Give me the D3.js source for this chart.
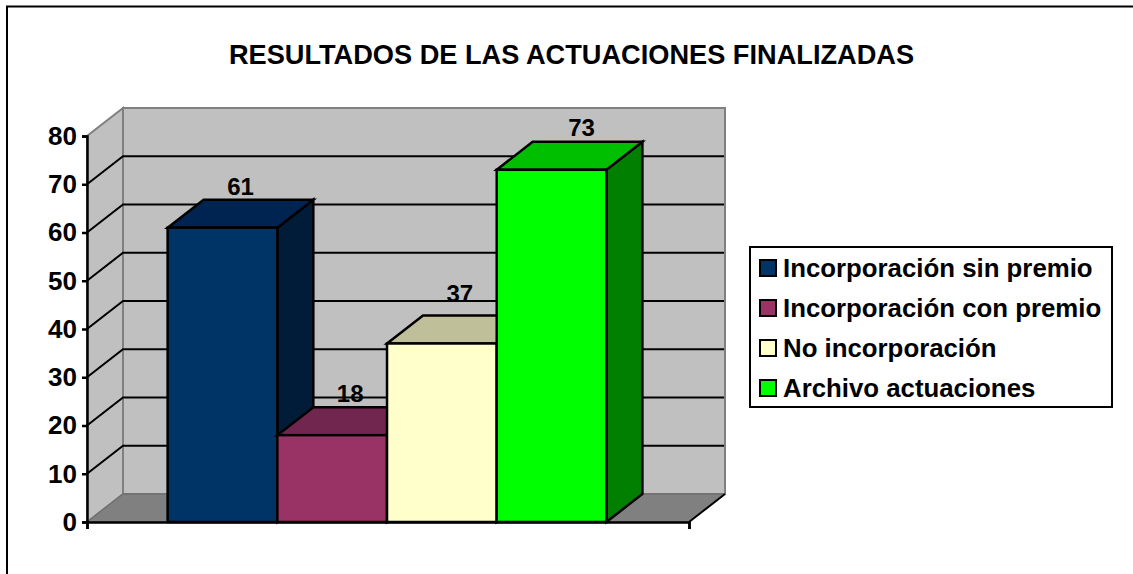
<!DOCTYPE html>
<html>
<head>
<meta charset="utf-8">
<style>
  html, body { margin: 0; padding: 0; background: #fff; }
  svg { display: block; }
  text { font-family: "Liberation Sans", Arial, sans-serif; font-weight: bold; fill: #000; }
</style>
</head>
<body>
<svg id="chart" width="1133" height="574"></svg>
<script src="https://cdn.jsdelivr.net/npm/d3@7/dist/d3.min.js"></script>
<script>
const TITLE = 'RESULTADOS DE LAS ACTUACIONES FINALIZADAS';
const categories = ['Incorporación sin premio', 'Incorporación con premio', 'No incorporación', 'Archivo actuaciones'];
const values = [61, 18, 37, 73];
const frontColors = ['#003366', '#993366', '#ffffcc', '#00ff00'];
const topColors = ['#002451', '#70264f', '#bfbf99', '#00bf00'];
const sideColors = ['#001c38', '#4d1a33', '#80806a', '#007f00'];
const yTicks = [0, 10, 20, 30, 40, 50, 60, 70, 80];

const DX = 36;
const DY = -28;

const svg = d3.select('#chart');

const x = d3.scaleBand().domain(categories).range([87, 689])
    .paddingInner(0).paddingOuter(0.744).align(0.494);
const y = d3.scaleLinear().domain([0, 80]).range([522, 136]);

const poly = (pts) => pts.map((p) => p.join(',')).join(' ');

// frame, runs off the right and bottom of the picture
svg.append('rect')
    .attr('x', 7).attr('y', 6.5)
    .attr('width', 1200).attr('height', 700)
    .attr('fill', '#fff').attr('stroke', '#000').attr('stroke-width', 2);

svg.append('text')
    .attr('x', 571.5).attr('y', 64)
    .attr('text-anchor', 'middle')
    .style('font-size', '27.2px')
    .text(TITLE);

// walls
const x0 = x.range()[0];
const x1 = x.range()[1];
const wallStroke = '#808080';
svg.append('polygon')
    .attr('points', poly([[x0, y(0)], [x0 + DX, y(0) + DY], [x0 + DX, y(80) + DY], [x0, y(80)]]))
    .attr('fill', '#c0c0c0').attr('stroke', wallStroke).attr('stroke-width', 2);
svg.append('polygon')
    .attr('points', poly([[x0 + DX, y(0) + DY], [x1 + DX, y(0) + DY], [x1 + DX, y(80) + DY], [x0 + DX, y(80) + DY]]))
    .attr('fill', '#c0c0c0').attr('stroke', wallStroke).attr('stroke-width', 2);
svg.append('polygon')
    .attr('points', poly([[x0, y(0)], [x0 + DX, y(0) + DY], [x1 + DX, y(0) + DY], [x1, y(0)]]))
    .attr('fill', '#808080').attr('stroke', '#666').attr('stroke-width', 1);

// gridlines
const gridTicks = yTicks.filter((t) => t > 0 && t < 80);
svg.append('g').selectAll('path').data(gridTicks).enter().append('path')
    .attr('d', (t) => `M${x0},${y(t)}L${x0 + DX},${y(t) + DY}L${x1 + DX - 1},${y(t) + DY}`)
    .attr('fill', 'none').attr('stroke', '#000').attr('stroke-width', 2);

// floor edge on the right
svg.append('line')
    .attr('x1', x1).attr('y1', y(0))
    .attr('x2', x1 + DX).attr('y2', y(0) + DY)
    .attr('stroke', '#000').attr('stroke-width', 2);

// axes
const yAxis = d3.axisLeft(y).tickValues(yTicks).tickSize(5).tickPadding(5);
const yG = svg.append('g').attr('transform', `translate(${x0},0)`).call(yAxis);
yG.selectAll('path, line').attr('stroke', '#000').attr('stroke-width', 2.5);
yG.selectAll('text').style('font-size', '26px').attr('fill', '#000');

const xAxis = d3.axisBottom(d3.scaleLinear().domain([0, 1]).range([x0, x1]))
    .tickValues([0, 1]).tickSize(7).tickFormat('');
const xG = svg.append('g').attr('transform', `translate(0,${y(0)})`).call(xAxis);
xG.selectAll('path, line').attr('stroke', '#000').attr('stroke-width', 2.5);

// bars
const data = categories.map((c, i) => ({c, v: values[i], i}));
const bars = svg.append('g').selectAll('g').data(data).enter().append('g')
    .attr('stroke', '#000').attr('stroke-width', 2.5).attr('stroke-linejoin', 'miter');
bars.append('polygon')
    .attr('points', (d) => {
      const r = x(d.c) + x.bandwidth();
      return poly([[r, y(0)], [r + DX, y(0) + DY], [r + DX, y(d.v) + DY], [r, y(d.v)]]);
    })
    .attr('fill', (d) => sideColors[d.i]);
bars.append('polygon')
    .attr('points', (d) => {
      const l = x(d.c);
      const r = l + x.bandwidth();
      return poly([[l, y(d.v)], [l + DX, y(d.v) + DY], [r + DX, y(d.v) + DY], [r, y(d.v)]]);
    })
    .attr('fill', (d) => topColors[d.i]);
bars.append('rect')
    .attr('x', (d) => x(d.c))
    .attr('y', (d) => y(d.v))
    .attr('width', x.bandwidth())
    .attr('height', (d) => y(0) - y(d.v))
    .attr('fill', (d) => frontColors[d.i]);

// the 37 and 73 labels were moved by hand in the original
const labelShiftX = d3.scaleOrdinal().domain(values).range([0, 0, 0, 12]);
const labelShiftY = d3.scaleOrdinal().domain(values).range([0, 0, -8, -1]);
svg.append('g').selectAll('text').data(data).enter().append('text')
    .attr('x', (d) => x(d.c) + x.bandwidth() / 2 + DX / 2 + labelShiftX(d.v))
    .attr('y', (d) => y(d.v) + DY - 5 + labelShiftY(d.v))
    .attr('text-anchor', 'middle')
    .style('font-size', '24px')
    .text((d) => d.v);

// legend
const legendY = d3.scaleBand().domain(categories).range([248, 408]).padding(0);
svg.append('rect')
    .attr('x', 750).attr('y', 247)
    .attr('width', 362).attr('height', 160)
    .attr('fill', '#fff').attr('stroke', '#000').attr('stroke-width', 2);
const items = svg.append('g').selectAll('g').data(data).enter().append('g')
    .attr('transform', (d) => `translate(0,${legendY(d.c) + legendY.bandwidth() / 2})`);
items.append('rect')
    .attr('x', 760).attr('y', -8)
    .attr('width', 16).attr('height', 16)
    .attr('fill', (d) => frontColors[d.i])
    .attr('stroke', '#000').attr('stroke-width', 2);
items.append('text')
    .attr('x', 783).attr('y', 9)
    .style('font-size', '25.8px')
    .text((d) => d.c);
</script>
</body>
</html>
